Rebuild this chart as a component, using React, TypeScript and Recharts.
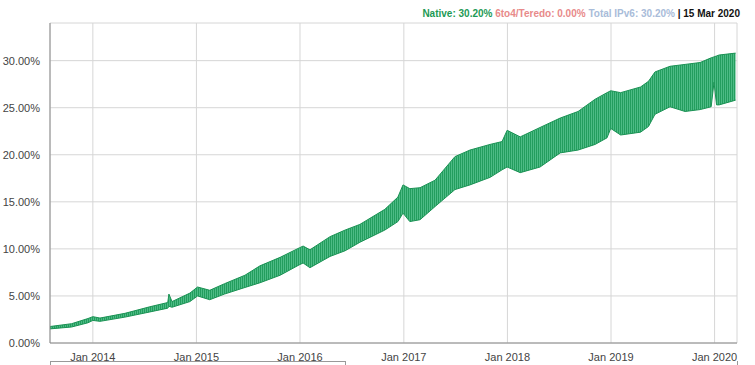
import { AreaChart, Area, XAxis, YAxis, CartesianGrid } from "recharts";

// date, daily low (weekday) and high (weekend) of the Native IPv6 share
const dates = [
  "2013-08-03", "2013-10-18", "2013-12-15", "2014-01-01", "2014-01-26", "2014-04-24",
  "2014-07-21", "2014-09-22", "2014-09-26", "2014-10-07", "2014-12-09", "2015-01-05",
  "2015-02-17", "2015-04-10", "2015-06-21", "2015-08-13", "2015-10-23", "2015-12-29",
  "2016-01-12", "2016-02-05", "2016-04-16", "2016-06-08", "2016-07-30", "2016-10-26",
  "2016-12-11", "2016-12-29", "2017-01-22", "2017-02-27", "2017-04-21", "2017-06-30",
  "2017-08-22", "2017-11-01", "2017-12-13", "2017-12-31", "2018-02-15", "2018-04-26",
  "2018-07-06", "2018-09-07", "2018-11-06", "2018-12-18", "2018-12-31", "2019-02-04",
  "2019-04-15", "2019-05-13", "2019-06-05", "2019-07-28", "2019-09-19", "2019-11-11",
  "2019-12-20", "2019-12-30", "2020-01-08", "2020-01-17", "2020-03-15",
];
const nativeLow = [
  1.5, 1.7, 2.15, 2.4, 2.3, 2.75,
  3.3, 3.7, 3.9, 3.8, 4.4, 5.0,
  4.6, 5.2, 5.9, 6.4, 7.2, 8.3,
  8.5, 8.0, 9.2, 9.8, 10.7, 12.0,
  12.9, 13.8, 12.9, 13.1, 14.5, 16.3,
  16.8, 17.6, 18.4, 18.7, 18.1, 18.7,
  20.2, 20.5, 21.1, 21.8, 22.8, 22.1,
  22.4, 23.0, 24.3, 25.1, 24.6, 24.8,
  25.1, 27.7, 25.3, 25.3, 25.8,
];
const nativeHigh = [
  1.75, 2.05, 2.6, 2.8, 2.65, 3.15,
  3.85, 4.3, 5.2, 4.4, 5.3, 5.95,
  5.6, 6.3, 7.2, 8.2, 9.1, 10.1,
  10.3, 9.9, 11.3, 12.0, 12.6, 14.2,
  15.5, 16.8, 16.4, 16.5, 17.3, 19.8,
  20.5, 21.1, 21.4, 22.6, 21.9, 22.9,
  23.9, 24.6, 25.9, 26.6, 26.8, 26.6,
  27.2, 27.8, 28.8, 29.4, 29.6, 29.8,
  30.3, 30.4, 30.5, 30.6, 30.8,
];
const yTicks = [0, 5, 10, 15, 20, 25, 30];
const yearTicks = ["2014-01-01", "2015-01-01", "2016-01-01", "2017-01-01", "2018-01-01", "2019-01-01", "2020-01-01"];

const ts = (s: string) => Date.parse(s + "T00:00:00Z");

const data = dates.map((d, i) => ({
  t: ts(d),
  native: [nativeLow[i], nativeHigh[i]],
}));

const font = "Arial, 'Liberation Sans', sans-serif";

export default function App() {
  return (
    <div style={{ position: "absolute", left: 0, top: 0, width: 755, height: 365, background: "#fff", fontFamily: font }}>
      <div
        style={{
          position: "absolute",
          right: 15,
          top: 8,
          fontSize: 10,
          fontWeight: "bold",
          whiteSpace: "nowrap",
        }}
      >
        <span style={{ color: "#1d9a55" }}>Native: 30.20% </span>
        <span style={{ color: "#e88a8a" }}>6to4/Teredo: 0.00% </span>
        <span style={{ color: "#a9bcd9" }}>Total IPv6: 30.20% </span>
        <span style={{ color: "#111" }}>| 15 Mar 2020</span>
      </div>
      <AreaChart width={755} height={365} data={data} margin={{ top: 23, right: 18, bottom: 0, left: 0 }}>
        <defs>
          <pattern id="weekly" patternUnits="userSpaceOnUse" width="2" height="8">
            <rect x="0" y="0" width="2" height="8" fill="#4dbb85" />
            <rect x="0" y="0" width="1" height="8" fill="#239d5e" />
          </pattern>
        </defs>
        <CartesianGrid stroke="#d6d6d6" strokeWidth={1} />
        <XAxis
          dataKey="t"
          type="number"
          scale="time"
          domain={[ts("2013-08-03"), ts("2020-03-20")]}
          ticks={yearTicks.map(ts)}
          tickFormatter={(v: number) => "Jan " + new Date(v).getUTCFullYear()}
          height={22}
          tickLine={false}
          axisLine={{ stroke: "#8a8a8a" }}
          tick={{ fill: "#444", fontSize: 11, fontFamily: font }}
          tickMargin={4}
          interval={0}
        />
        <YAxis
          type="number"
          domain={[0, 34]}
          ticks={yTicks}
          tickFormatter={(v: number) => v.toFixed(2) + "%"}
          width={50}
          tickLine={false}
          axisLine={{ stroke: "#8a8a8a" }}
          tick={{ fill: "#444", fontSize: 11, fontFamily: font }}
          tickMargin={4}
          interval={0}
        />
        <Area
          dataKey="native"
          type="linear"
          stroke="#1a9254"
          strokeWidth={1}
          fill="url(#weekly)"
          fillOpacity={1}
          isAnimationActive={false}
          dot={false}
          activeDot={false}
        />
      </AreaChart>
      <div
        style={{
          position: "absolute",
          left: 50,
          top: 361,
          width: 294,
          height: 10,
          borderTop: "1px solid #999",
          borderLeft: "1px solid #999",
          borderRight: "1px solid #999",
        }}
      />
      <div style={{ position: "absolute", left: 737, top: 361, width: 1, height: 4, background: "#999" }} />
    </div>
  );
}
